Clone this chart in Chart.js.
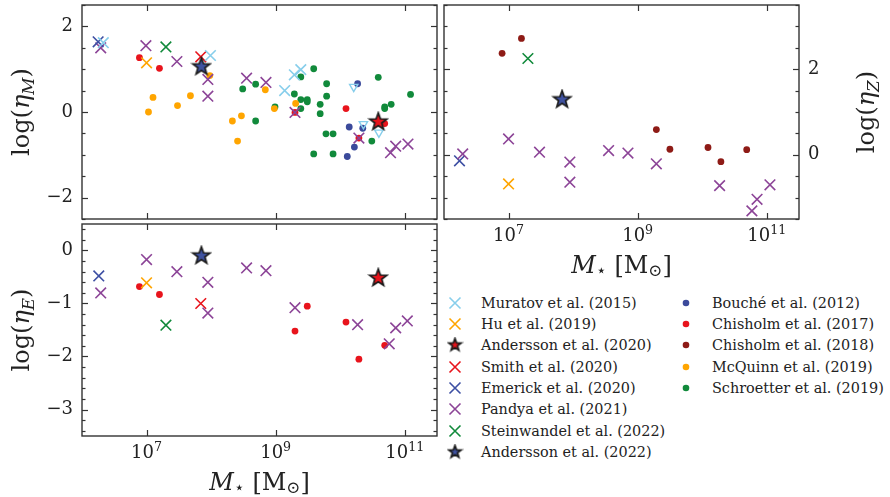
<!DOCTYPE html>
<html>
<head>
<meta charset="utf-8">
<script src="https://cdn.jsdelivr.net/npm/chart.js@4"></script>
<style>
body { margin: 0; background: #fff; width: 890px; height: 497px; overflow: hidden; position: relative; font-family: 'DejaVu Serif', serif; }
canvas.panel { position: absolute; }
.leg { position: absolute; font-size: 14.4px; color: #222; line-height: 16px; white-space: nowrap; }
.leg canvas { position: absolute; }
</style>
</head>
<body>
<canvas id="cM" class="panel" width="440" height="222" style="left:0;top:0"></canvas>
<canvas id="cZ" class="panel" width="450" height="280" style="left:440px;top:0"></canvas>
<canvas id="cE" class="panel" width="440" height="275" style="left:0;top:222px"></canvas>
<div id="legend"></div>
<script>
// x = log10(M*/Msun), y = log(eta)
// --- mass loading, eta_M ---
const muratovM = [[6.33, 1.62], [7.99, 1.32], [9.14, 0.50], [9.29, 0.87], [9.39, 0.99]];
const muratovLimM = [[10.21, 0.59], [10.36, -0.28], [10.60, -0.48]];
const huM = [[7.0, 1.15]];
const andersson20M = [[10.59, -0.23]];
const smithM = [[7.84, 1.29]];
const emerickM = [[6.25, 1.64]];
const pandyaM = [[6.29, 1.50], [6.99, 1.55], [7.47, 1.18], [7.95, 0.76], [7.95, 0.37], [8.55, 0.79],
  [8.85, 0.69], [9.30, -0.01], [10.29, -0.61], [10.78, -0.95], [10.86, -0.80], [11.05, -0.75]];
const steinwandelM = [[7.30, 1.52]];
const andersson22M = [[7.85, 1.06]];
const boucheM = [[10.27, 0.66], [10.14, -0.35], [10.35, -0.38], [10.22, -0.82], [10.11, -1.04]];
const chisholm17M = [[6.89, 1.27], [7.20, 1.02], [9.30, -0.01], [10.09, 0.08], [10.29, -0.61], [10.69, -0.27]];
const mcquinnM = [[7.10, 0.34], [7.03, 0.0], [7.48, 0.15], [7.68, 0.38], [7.98, 0.85], [8.33, -0.21],
  [8.47, -0.09], [8.41, -0.68], [8.84, 0.52], [8.98, 0.08], [9.31, 0.20]];
const schroetterM = [[8.49, 0.54], [8.69, 0.65], [8.69, -0.21], [8.99, 0.12], [9.29, 0.42], [9.39, 0.82],
  [9.39, 0.29], [9.39, 0.08], [9.49, 0.29], [9.49, 0.24], [9.59, 1.01], [9.59, -0.98], [9.69, 0.18],
  [9.69, -0.04], [9.79, 0.66], [9.79, 0.37], [9.78, -0.51], [9.89, -0.51], [9.89, -0.98], [10.49, -0.68],
  [10.59, 0.81], [10.69, 0.12], [10.69, 0.08], [10.79, 0.18], [11.09, 0.41]];

// --- metal loading, eta_Z ---
const chisholm18Z = [[6.90, 2.37], [7.20, 2.72], [9.29, 0.59], [9.50, 0.13], [10.09, 0.17], [10.29, -0.16], [10.69, 0.12]];
const steinwandelZ = [[7.30, 2.25]];
const andersson22Z = [[7.83, 1.29]];
const pandyaZ = [[6.29, 0.02], [7.0, 0.37], [7.48, 0.06], [7.95, -0.17], [7.95, -0.64], [8.55, 0.10],
  [8.85, 0.04], [9.29, -0.21], [10.27, -0.72], [10.85, -1.04], [10.77, -1.31], [11.05, -0.70]];
const emerickZ = [[6.24, -0.14]];
const huZ = [[7.0, -0.68]];

// --- energy loading, eta_E ---
const emerickE = [[6.26, -0.48]];
const pandyaE = [[6.29, -0.80], [7.0, -0.17], [7.47, -0.40], [7.95, -0.60], [7.95, -1.18], [8.55, -0.33],
  [8.85, -0.38], [9.30, -1.08], [10.27, -1.40], [10.76, -1.76], [10.86, -1.46], [11.04, -1.33]];
const huE = [[7.0, -0.61]];
const chisholm17E = [[6.89, -0.68], [7.20, -0.83], [9.49, -1.05], [9.30, -1.52], [10.09, -1.35], [10.29, -2.05], [10.69, -1.79]];
const smithE = [[7.84, -1.0]];
const steinwandelE = [[7.30, -1.41]];
const andersson22E = [[7.85, -0.10]];
const andersson20E = [[10.59, -0.52]];

// ticks
const massTicks = [7, 9, 11];
const massTickExp = ['7', '9', '11'];
const etaMTicks = [-2, 0, 2];
const etaZTicks = [0, 2];
const etaETicks = [-3, -2, -1, 0];

const FONT = "'DejaVu Serif'";
const C = {
  muratov: '#87ceeb', hu: '#ffa500', red: '#e8141c', emerick: '#3d4fa3', pandya: '#8c4497',
  green: '#118a3b', bouche: '#3b4a9b', darkred: '#8e1b16', mcquinn: '#ffa500', starBlue: '#3f52a0'
};

function starImg(fill, R) {
  const s = Math.ceil(R * 2 + 4), c = document.createElement('canvas');
  c.width = c.height = s;
  const g = c.getContext('2d');
  g.beginPath();
  for (let i = 0; i < 10; i++) {
    const r = i % 2 ? R * 0.41 : R, a = -Math.PI / 2 + i * Math.PI / 5;
    g.lineTo(s / 2 + r * Math.cos(a), s / 2 + r * Math.sin(a));
  }
  g.closePath();
  g.fillStyle = fill; g.fill();
  g.lineWidth = 1.7; g.strokeStyle = '#1a1a1a'; g.lineJoin = 'miter'; g.stroke();
  return c;
}

function ds(pts, kind, color, order) {
  const d = { data: pts.map(([x, y]) => ({ x, y })), order: order || 5 };
  if (kind === 'x') Object.assign(d, { pointStyle: 'crossRot', pointRadius: 7.5, pointBorderWidth: 1.6, pointBorderColor: color, pointBackgroundColor: color });
  if (kind === 'o') Object.assign(d, { pointStyle: 'circle', pointRadius: 3.4, pointBorderWidth: 0, pointBackgroundColor: color });
  if (kind === 'star') Object.assign(d, { pointStyle: starImg(color, 9), pointRadius: 10, order: 0 });
  if (kind === 'v') Object.assign(d, { pointStyle: 'triangle', pointRotation: 180, pointRadius: 4.8, pointBorderWidth: 1.4, pointBorderColor: color, pointBackgroundColor: 'rgba(0,0,0,0)' });
  return d;
}

// rich text: parts [{t, it, sub, sup}]
function drawRich(ctx, parts, cx, cy, rot, size, subDrop) {
  ctx.save();
  ctx.translate(cx, cy); ctx.rotate(rot);
  const font = p => (p.it ? 'italic ' : '') + (p.sub || p.sup ? size * 0.7 : size) + 'px ' + FONT;
  let w = 0;
  parts.forEach(p => { ctx.font = font(p); p.w = ctx.measureText(p.t).width; w += p.w; });
  let x = -w / 2;
  ctx.textAlign = 'left'; ctx.textBaseline = 'alphabetic'; ctx.fillStyle = '#222';
  parts.forEach(p => {
    ctx.font = font(p);
    const dy = p.sub ? size * (subDrop || 0.22) : p.sup ? -size * 0.42 : 0;
    ctx.fillText(p.t, x, size * 0.36 + dy);
    x += p.w;
  });
  ctx.restore();
}

const massTitle = [{ t: 'M', it: true }, { t: '⋆', sub: true }, { t: ' [M' }, { t: '⊙', sub: true }, { t: ']' }];
const etaTitle = s => [{ t: 'log(' }, { t: 'η', it: true }, { t: s, it: true, sub: true }, { t: ')' }];

const frameTicks = {
  id: 'frameTicks',
  afterDraw(chart, args, o) {
    const { ctx, chartArea: a, scales: { x, y } } = chart;
    ctx.save();
    ctx.strokeStyle = '#333'; ctx.lineWidth = 1.2;
    const line = (x1, y1, x2, y2) => { ctx.beginPath(); ctx.moveTo(x1, y1); ctx.lineTo(x2, y2); ctx.stroke(); };
    massTicks.forEach(v => {
      const px = Math.round(x.getPixelForValue(v)) + 0.5;
      line(px, a.bottom, px, a.bottom - 6); line(px, a.top, px, a.top + 6);
    });
    const st = o.minor;
    for (let v = Math.ceil(y.min / st - 1e-6) * st; v <= y.max + 1e-6; v += st) {
      const major = o.major.some(m => Math.abs(m - v) < 1e-6);
      const len = major ? 6 : 3.5;
      const py = Math.round(y.getPixelForValue(v)) + 0.5;
      line(a.left, py, a.left + len, py); line(a.right, py, a.right - len, py);
    }
    ctx.lineWidth = 1.4;
    ctx.strokeRect(a.left, a.top, a.right - a.left, a.bottom - a.top);
    if (o.xLabels) {
      massTicks.forEach((v, i) => drawRich(ctx, [{ t: '10' }, { t: massTickExp[i], sup: true }], x.getPixelForValue(v), a.bottom + 16, 0, 18));
      drawRich(ctx, massTitle, (a.left + a.right) / 2, a.bottom + 45.5, 0, 24, 0.1);
    }
    drawRich(ctx, etaTitle(o.ySub), o.yTitleX, (a.top + a.bottom) / 2, -Math.PI / 2, 24);
    ctx.restore();
  }
};

function makeChart(id, datasets, yMin, yMax, ticks, minor, side, pad, yWidth, extra) {
  return new Chart(document.getElementById(id), {
    type: 'scatter',
    data: { datasets },
    plugins: [frameTicks],
    options: {
      responsive: false, animation: false, devicePixelRatio: 1, events: [],
      layout: { padding: pad, autoPadding: false },
      plugins: {
        legend: { display: false }, tooltip: { enabled: false },
        frameTicks: Object.assign({ major: ticks, minor }, extra)
      },
      scales: {
        x: { type: 'linear', min: 6, max: 11.5, display: false },
        y: {
          type: 'linear', min: yMin, max: yMax, position: side,
          grid: { display: false, drawTicks: false }, border: { display: false },
          afterBuildTicks: s => { s.ticks = ticks.map(v => ({ value: v })); },
          afterFit: s => { s.width = yWidth; s.paddingTop = 0; s.paddingBottom = 0; },
          ticks: {
            autoSkip: false, padding: 9, color: '#222', font: { family: FONT, size: 18 },
            callback: v => v < 0 ? '\u2212' + Math.abs(v) : String(v)
          }
        }
      }
    }
  });
}

makeChart('cM', [
  ds(andersson22M, 'star', C.starBlue), ds(andersson20M, 'star', C.red),
  ds(muratovM, 'x', C.muratov), ds(muratovLimM, 'v', C.muratov), ds(huM, 'x', C.hu), ds(smithM, 'x', C.red),
  ds(emerickM, 'x', C.emerick), ds(pandyaM, 'x', C.pandya), ds(steinwandelM, 'x', C.green),
  ds(boucheM, 'o', C.bouche, 6), ds(chisholm17M, 'o', C.red, 6), ds(mcquinnM, 'o', C.mcquinn, 6), ds(schroetterM, 'o', C.green, 6)
], -2.5, 2.5, etaMTicks, 0.5, 'left', { left: 0, top: 5, right: 3, bottom: 3 }, 82, { ySub: 'M', yTitleX: 20 });

makeChart('cZ', [
  ds(andersson22Z, 'star', C.starBlue),
  ds(steinwandelZ, 'x', C.green), ds(pandyaZ, 'x', C.pandya), ds(emerickZ, 'x', C.emerick), ds(huZ, 'x', C.hu),
  ds(chisholm18Z, 'o', C.darkred, 6)
], -1.5, 3.5, etaZTicks, 0.5, 'right', { left: 4, top: 5, right: 0, bottom: 61 }, 91, { ySub: 'Z', yTitleX: 425, xLabels: true });

makeChart('cE', [
  ds(andersson22E, 'star', C.starBlue), ds(andersson20E, 'star', C.red),
  ds(emerickE, 'x', C.emerick), ds(pandyaE, 'x', C.pandya), ds(huE, 'x', C.hu), ds(smithE, 'x', C.red),
  ds(steinwandelE, 'x', C.green), ds(chisholm17E, 'o', C.red, 6)
], -3.5, 0.5, etaETicks, 0.2, 'left', { left: 0, top: 2, right: 3, bottom: 61 }, 82, { ySub: 'E', yTitleX: 20, xLabels: true });

// legend
const legendLeft = [
  ['Muratov et al. (2015)', 'x', C.muratov], ['Hu et al. (2019)', 'x', C.hu], ['Andersson et al. (2020)', 'star', C.red],
  ['Smith et al. (2020)', 'x', C.red], ['Emerick et al. (2020)', 'x', C.emerick], ['Pandya et al. (2021)', 'x', C.pandya],
  ['Steinwandel et al. (2022)', 'x', C.green], ['Andersson et al. (2022)', 'star', C.starBlue]
];
const legendRight = [
  ['Bouché et al. (2012)', 'o', C.bouche], ['Chisholm et al. (2017)', 'o', C.red], ['Chisholm et al. (2018)', 'o', C.darkred],
  ['McQuinn et al. (2019)', 'o', C.mcquinn], ['Schroetter et al. (2019)', 'o', C.green]
];
function legendIcon(kind, color) {
  const c = document.createElement('canvas');
  c.width = c.height = 18;
  const g = c.getContext('2d');
  if (kind === 'x') {
    g.strokeStyle = color; g.lineWidth = 1.6;
    g.beginPath(); g.moveTo(3.5, 3.5); g.lineTo(14.5, 14.5); g.moveTo(14.5, 3.5); g.lineTo(3.5, 14.5); g.stroke();
  } else if (kind === 'o') {
    g.fillStyle = color; g.beginPath(); g.arc(9, 9, 3.3, 0, Math.PI * 2); g.fill();
  } else {
    g.drawImage(starImg(color, 6.5), 9 - 8.5, 9 - 8.5);
  }
  return c;
}
const leg = document.getElementById('legend');
function addColumn(items, mx, tx, y0) {
  items.forEach(([label, kind, color], i) => {
    const yc = y0 + i * 21.3;
    const ic = legendIcon(kind, color);
    ic.style.cssText = 'position:absolute;left:' + (mx - 9) + 'px;top:' + (yc - 9) + 'px';
    leg.appendChild(ic);
    const t = document.createElement('div');
    t.className = 'leg'; t.textContent = label;
    t.style.left = tx + 'px'; t.style.top = (yc - 8) + 'px';
    leg.appendChild(t);
  });
}
addColumn(legendLeft, 455, 481, 302.7);
addColumn(legendRight, 686, 712, 302.7);
</script>
</body>
</html>
